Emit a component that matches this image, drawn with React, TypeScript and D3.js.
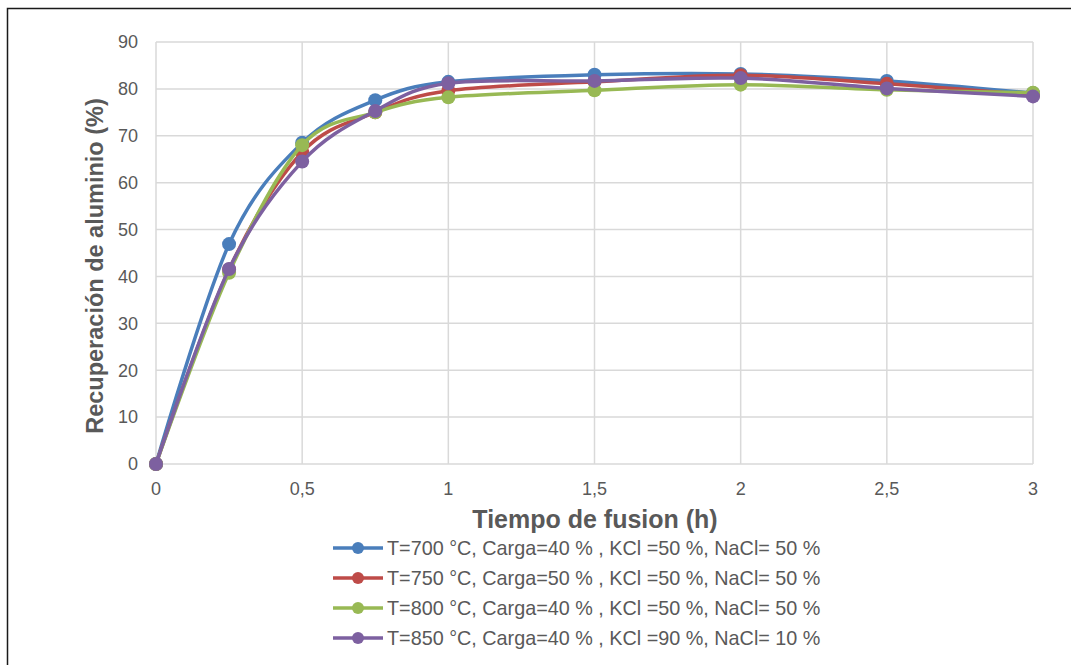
import React from "react";
import * as d3 from "d3";

const times = [0, 0.25, 0.5, 0.75, 1, 1.5, 2, 2.5, 3];
const s700 = [0, 46.9, 68.5, 77.6, 81.5, 83.0, 83.2, 81.7, 79.1];
const s750 = [0, 41.5, 66.5, 75.0, 79.6, 81.5, 82.9, 81.1, 78.7];
const s800 = [0, 40.8, 68.0, 75.0, 78.2, 79.7, 80.9, 79.8, 79.2];
const s850 = [0, 41.6, 64.5, 75.3, 81.2, 81.7, 82.3, 80.1, 78.4];
const seriesNames = [
  "T=700 °C, Carga=40 % , KCl =50 %, NaCl= 50 %",
  "T=750 °C, Carga=50 % , KCl =50 %, NaCl= 50 %",
  "T=800 °C, Carga=40 % , KCl =50 %, NaCl= 50 %",
  "T=850 °C, Carga=40 % , KCl =90 %, NaCl= 10 %",
];
const seriesColors = ["#4A7EBB", "#BE4B48", "#98B954", "#7D60A0"];
const xTicks = [0, 0.5, 1, 1.5, 2, 2.5, 3];
const yTicks = [0, 10, 20, 30, 40, 50, 60, 70, 80, 90];

const allSeries = [s700, s750, s800, s850];

export default function App() {
  const W = 1071, H = 665;
  const x = d3.scaleLinear().domain([0, 3]).range([156, 1033]);
  const y = d3.scaleLinear().domain([0, 90]).range([464, 42]);
  const line = d3
    .line<number>()
    .x((_, i) => x(times[i]))
    .y((d) => y(d))
    .curve(d3.curveCatmullRom.alpha(0));
  const fmt = (v: number) => String(v).replace(".", ",");
  const font = "'Liberation Sans', Arial, sans-serif";
  const gray = "#595959";
  return (
    <svg
      width={W}
      height={H}
      style={{ position: "absolute", left: 0, top: 0, background: "#fff" }}
      fontFamily={font}
    >
      <rect x={0} y={0} width={W} height={H} fill="#fff" />
      <rect x={7.5} y={8.5} width={1200} height={800} fill="none" stroke="#1a1a1a" strokeWidth={1.5} />
      {yTicks.map((t) => (
        <line key={"gy" + t} x1={x(0)} x2={x(3)} y1={y(t)} y2={y(t)} stroke="#D9D9D9" strokeWidth={1.5} />
      ))}
      {xTicks.map((t) => (
        <line key={"gx" + t} x1={x(t)} x2={x(t)} y1={y(0)} y2={y(90)} stroke="#D9D9D9" strokeWidth={1.5} />
      ))}
      {yTicks.map((t) => (
        <text key={"ty" + t} x={138} y={y(t)} dy="0.35em" textAnchor="end" fontSize={18} fill={gray}>
          {t}
        </text>
      ))}
      {xTicks.map((t) => (
        <text key={"tx" + t} x={x(t)} y={495} textAnchor="middle" fontSize={18} fill={gray}>
          {fmt(t)}
        </text>
      ))}
      <text x={595} y={528} textAnchor="middle" fontSize={25} fontWeight="bold" fill={gray}>
        Tiempo de fusion (h)
      </text>
      <text
        transform={`translate(103,266) rotate(-90)`}
        textAnchor="middle"
        fontSize={23.5}
        fontWeight="bold"
        fill={gray}
      >
        Recuperación de aluminio (%)
      </text>
      {allSeries.map((s, si) => (
        <g key={"s" + si}>
          <path d={line(s) || ""} fill="none" stroke={seriesColors[si]} strokeWidth={3.5} />
          {s.map((v, i) => (
            <circle key={i} cx={x(times[i])} cy={y(v)} r={7} fill={seriesColors[si]} />
          ))}
        </g>
      ))}
      {seriesNames.map((n, i) => {
        const ly = 548 + i * 30;
        return (
          <g key={"l" + i}>
            <line x1={333} x2={383} y1={ly} y2={ly} stroke={seriesColors[i]} strokeWidth={3.5} />
            <circle cx={358} cy={ly} r={6} fill={seriesColors[i]} />
            <text x={387} y={ly + 7} fontSize={19.8} fill={gray}>
              {n}
            </text>
          </g>
        );
      })}
    </svg>
  );
}
